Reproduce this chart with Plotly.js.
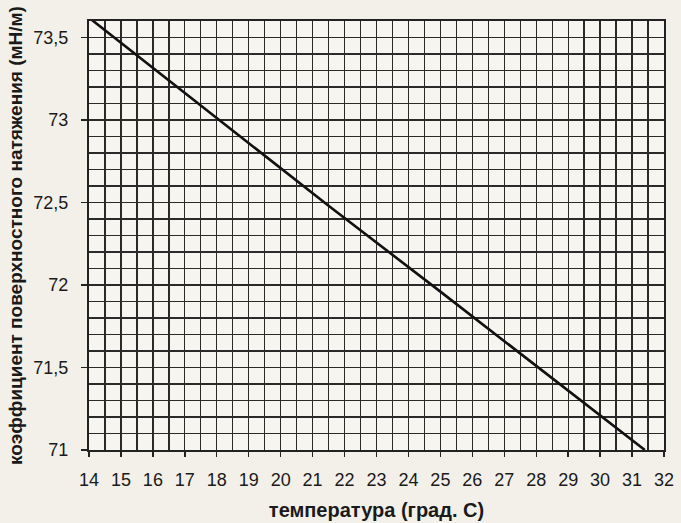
<!DOCTYPE html>
<html>
<head>
<meta charset="utf-8">
<script src="https://cdn.plot.ly/plotly-3.0.1.min.js"></script>
<style>html,body{margin:0;padding:0;background:#f3f0e9;}</style>
</head>
<body>
<div id="chart" style="width:681px;height:523px;"></div>
<script>
// temperature (°C) and surface tension (mN/m)
const temperature = [14, 18, 21.5, 25, 28, 31.4];
const tension = [73.62, 73.01, 72.48, 71.96, 71.51, 71.0];

const xTitle = 'температура (град. С)';
const yTitle = 'коэффициент поверхностного натяжения (мН/м)';

const trace = {
  x: temperature, y: tension, type: 'scatter', mode: 'lines',
  line: {color: '#111', width: 2.6}, hoverinfo: 'skip', cliponaxis: false
};

const fontFam = '"Liberation Sans", Arial, sans-serif';
const layout = {
  width: 681, height: 523,
  margin: {l: 89, r: 17, t: 21, b: 73},
  paper_bgcolor: '#f3f0e9', plot_bgcolor: '#f7f5f0',
  separators: ', ',
  showlegend: false,
  font: {family: fontFam, color: '#1a1a1a'},
  xaxis: {
    range: [14, 32], dtick: 1, tick0: 14,
    showgrid: true, gridcolor: '#2a2a2a', gridwidth: 1.3,
    minor: {dtick: 0.5, showgrid: true, gridcolor: '#2a2a2a', gridwidth: 1.3, ticks: ''},
    ticks: 'outside', ticklen: 5, tickcolor: '#222', tickwidth: 1.4,
    ticklabelstandoff: 7,
    tickfont: {size: 18, family: fontFam, color: '#1a1a1a'},
    showline: true, linecolor: '#222', linewidth: 2, mirror: true,
    zeroline: false,
    title: {text: xTitle, font: {size: 20, family: fontFam, weight: 'bold', color: '#1a1a1a'}, standoff: 14}
  },
  yaxis: {
    range: [71, 73.6], dtick: 0.5, tick0: 71,
    showgrid: true, gridcolor: '#2a2a2a', gridwidth: 1.3,
    minor: {dtick: 0.1, showgrid: true, gridcolor: '#2a2a2a', gridwidth: 1.3, ticks: ''},
    ticks: 'outside', ticklen: 6, tickcolor: '#222', tickwidth: 1.4,
    ticklabelstandoff: 9,
    tickfont: {size: 18, family: fontFam, color: '#1a1a1a'},
    showline: true, linecolor: '#222', linewidth: 2, mirror: true,
    zeroline: false,
    title: {text: yTitle, font: {size: 19, family: fontFam, weight: 'bold', color: '#1a1a1a'}, standoff: 6}
  }
};

Plotly.newPlot('chart', [trace], layout, {displayModeBar: false, staticPlot: true});
</script>
</body>
</html>
